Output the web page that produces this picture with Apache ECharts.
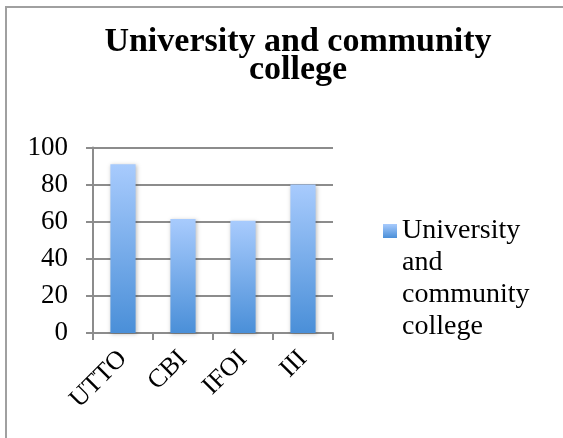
<!DOCTYPE html>
<html>
<head>
<meta charset="utf-8">
<script src="https://cdn.jsdelivr.net/npm/echarts@6/dist/echarts.min.js"></script>
<style>
html,body{margin:0;padding:0;background:#fff;}
#chart{width:563px;height:438px;}
#frame{position:absolute;left:5px;top:6px;width:563px;height:440px;border-left:2px solid #a0a0a0;border-top:2px solid #a0a0a0;box-sizing:border-box;pointer-events:none;}
</style>
</head>
<body>
<div id="chart"></div>
<div id="frame"></div>
<script>
const titleText = 'University and community\ncollege';
const seriesName = 'University and community college';
const legendLines = ['University', 'and', 'community', 'college'];
const categories = ['UTTO', 'CBI', 'IFOI', 'III'];
const values = [91, 61.5, 60.5, 80];
const yTicks = { min: 0, max: 100, interval: 20 };

const chart = echarts.init(document.getElementById('chart'), null, { renderer: 'canvas' });
const serif = '"Liberation Serif", "DejaVu Serif", serif';
const barColor = new echarts.graphic.LinearGradient(0, 0, 0, 1, [
  { offset: 0, color: '#a8cbfd' },
  { offset: 1, color: '#4a8fd8' }
]);
chart.setOption({
  animation: false,
  backgroundColor: '#ffffff',
  title: {
    text: titleText,
    left: 298,
    top: 28,
    padding: 0,
    textAlign: 'center',
    textStyle: { fontFamily: serif, fontWeight: 'bold', fontSize: 34, lineHeight: 28, color: '#000' }
  },
  legend: {
    orient: 'vertical',
    left: 383,
    top: 119,
    padding: 0,
    itemWidth: 14,
    itemHeight: 14,
    icon: 'rect',
    formatter: function () { return '\n\n\n' + legendLines.join('\n'); },
    textStyle: { fontFamily: serif, fontSize: 28, lineHeight: 32, color: '#000' }
  },
  grid: { left: 93, right: 230, top: 147.5, bottom: 105, containLabel: false },
  xAxis: {
    type: 'category',
    data: categories,
    axisLine: { lineStyle: { color: '#8c8c8c', width: 2 } },
    axisTick: { show: true, length: 7, lineStyle: { color: '#8c8c8c', width: 2 } },
    axisLabel: { rotate: 45, margin: 22, fontFamily: serif, fontSize: 26, color: '#000' }
  },
  yAxis: {
    type: 'value',
    min: yTicks.min,
    max: yTicks.max,
    interval: yTicks.interval,
    axisLine: { show: true, lineStyle: { color: '#8c8c8c', width: 2 } },
    axisTick: { show: true, length: 7, lineStyle: { color: '#8c8c8c', width: 2 } },
    splitLine: { show: true, lineStyle: { color: '#8c8c8c', width: 2 } },
    axisLabel: { margin: 25, fontFamily: serif, fontSize: 27, color: '#000' }
  },
  series: [{
    name: seriesName,
    type: 'bar',
    data: values,
    barWidth: '42%',
    itemStyle: {
      color: barColor,
      shadowBlur: 4,
      shadowColor: 'rgba(0,0,0,0.25)',
      shadowOffsetX: 1,
      shadowOffsetY: 1
    }
  }]
});
</script>
</body>
</html>
